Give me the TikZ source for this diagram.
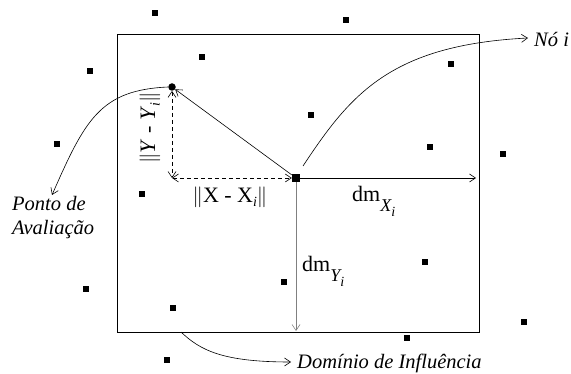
\documentclass[tikz,border=0pt]{standalone}
\usepackage{fontspec}
\setmainfont{Liberation Serif}
\usetikzlibrary{arrows.meta}
\newcommand{\smallsub}[1]{\raisebox{-4.5pt}{\fontsize{14}{14}\selectfont\itshape #1}}
\newcommand{\dmsub}[1]{\raisebox{-10pt}{\fontsize{18}{18}\selectfont\itshape #1\raisebox{-5pt}{\fontsize{14}{14}\selectfont i}}}
\begin{document}
\begin{tikzpicture}[x=1pt,y=-1pt,
  sq/.style={fill=black,inner sep=0pt,minimum size=6.5pt},
  bigsq/.style={fill=black,inner sep=0pt,minimum size=8pt},
  evdot/.style={circle,fill=black,inner sep=0pt,minimum size=7.5pt},
  tip/.style={-{Straight Barb[length=6pt,width=8pt]}},
  dtip/.style={{Straight Barb[length=6pt,width=8pt]}-{Straight Barb[length=6pt,width=8pt]}},
  conn/.style={line width=0.6pt},
  lbl/.style={font=\fontsize{22}{24}\selectfont,inner sep=0pt},
  ann/.style={font=\fontsize{20.5}{24}\selectfont\itshape,inner sep=0pt}]
\useasboundingbox (0,0) rectangle (571,374);
% domain
\node[draw,line width=0.8pt,minimum width=362pt,minimum height=298pt,inner sep=0pt,anchor=north west] (dom) at (117,34) {};
% scattered nodes
\foreach \n/\x/\y in {1/155/13,2/202/57,3/90/71,4/57/144,5/142/194,6/346/20,7/451/64,8/311/115,9/430/147,10/503/154,11/86/289,12/173/308,13/284/282,14/167/360,15/425/262,16/407/338,17/524/322}
  \node[sq] (s\n) at (\x,\y) {};
% node i and evaluation point
\node[bigsq] (ni) at (296,178) {};
\node[evdot] (p) at (172,87) {};
\coordinate (c) at (172,178);
\coordinate (dx) at (476,178);
\coordinate (dy) at (296,331);
% distances
\draw[conn,dashed,dash pattern=on 4pt off 3pt,dtip] (p) -- (c);
\draw[conn,dashed,dash pattern=on 4pt off 3pt,dtip] (c) -- (ni.west);
\draw[conn,tip] (ni) -- (p);
\draw[conn,tip] (ni.east) -- (dx);
\draw[conn,gray,tip] (ni.south) -- (dy);
% labels
\node[lbl,rotate=90] (ly) at (150,128) {$\|$\textit{Y} - \textit{Y}\smallsub{i}$\|$};
\node[lbl] (lx) at (230,197) {$\|$X - X\smallsub{i}$\|$};
\node[lbl,anchor=base west] (ldx) at (352,202) {dm\dmsub{X}};
\node[lbl,anchor=base west] (ldy) at (302,272) {dm\dmsub{Y}};
% annotations
\node[ann,anchor=west] (tno) at (534,39) {Nó i};
\coordinate (eno) at (528,38);
\draw[conn,tip] (303,166) .. controls (350,95) and (390,45) .. (eno);
\node[ann,anchor=north west,align=left] (tpa) at (12,196) {Ponto de\\Avaliação};
\coordinate (epa) at (52,195);
\draw[conn,tip] (p.west) .. controls (100,90) and (85,120) .. (epa);
\node[ann,anchor=west] (tdo) at (297,363) {Domínio de Influência};
\coordinate (sdo) at (181,332);
\coordinate (edo) at (291,362);
\draw[conn,tip] (sdo) .. controls (200,350) and (222,362) .. (edo);
\end{tikzpicture}
\end{document}
